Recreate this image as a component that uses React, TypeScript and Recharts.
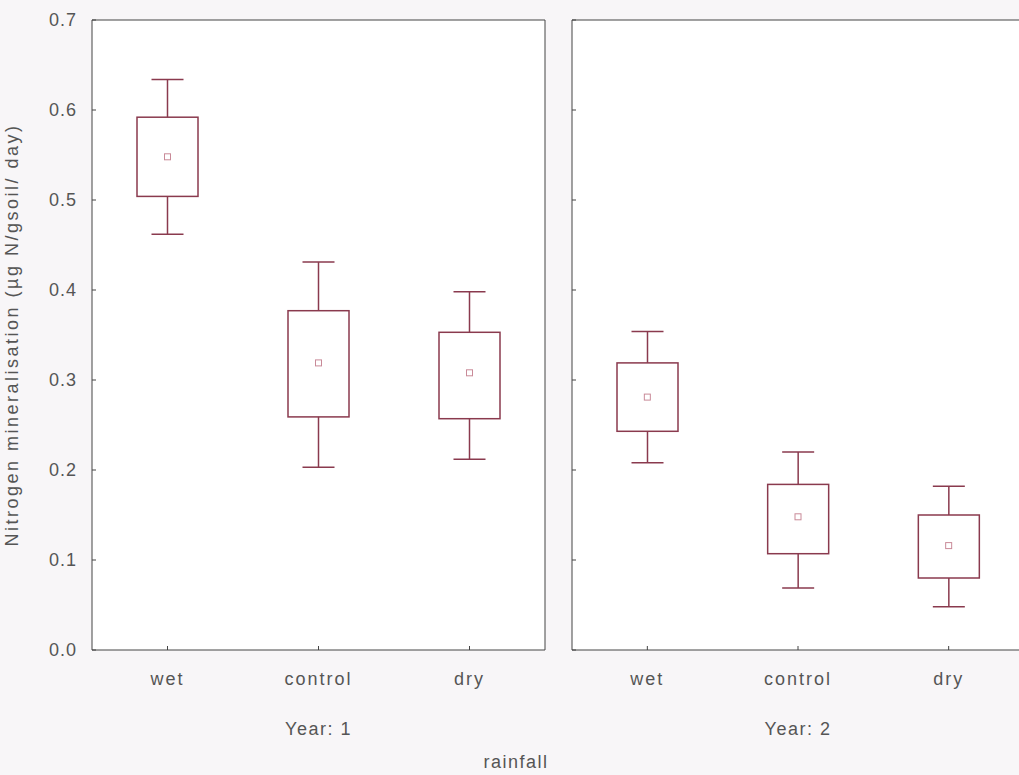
import { ComposedChart, Bar, Scatter, XAxis, YAxis, CartesianGrid, Label } from 'recharts'

const categories = ['wet', 'control', 'dry']
const yTicks = [0, 0.1, 0.2, 0.3, 0.4, 0.5, 0.6, 0.7]

// Year 1
const y1WhiskerHigh = [0.634, 0.431, 0.398]
const y1BoxHigh = [0.592, 0.377, 0.353]
const y1Mean = [0.548, 0.319, 0.308]
const y1BoxLow = [0.504, 0.259, 0.257]
const y1WhiskerLow = [0.462, 0.203, 0.212]

// Year 2
const y2WhiskerHigh = [0.354, 0.22, 0.182]
const y2BoxHigh = [0.319, 0.184, 0.15]
const y2Mean = [0.281, 0.148, 0.116]
const y2BoxLow = [0.243, 0.107, 0.08]
const y2WhiskerLow = [0.208, 0.069, 0.048]

const build = (wh: number[], bh: number[], m: number[], bl: number[], wl: number[]) =>
  categories.map((name, i) => ({
    name,
    whiskerHigh: wh[i],
    boxHigh: bh[i],
    mean: m[i],
    boxLow: bl[i],
    whiskerLow: wl[i],
  }))

const year1 = build(y1WhiskerHigh, y1BoxHigh, y1Mean, y1BoxLow, y1WhiskerLow)
const year2 = build(y2WhiskerHigh, y2BoxHigh, y2Mean, y2BoxLow, y2WhiskerLow)

const BOX = '#8a3a4e'
const AXIS = '#444'
const TEXT = '#555'
const FONT = 'Liberation Sans, Arial, sans-serif'

const BoxShape = (props: any) => {
  const { x, y, width, height, payload } = props
  const top = Math.min(y, y + height)
  const span = Math.abs(height)
  const range = payload.whiskerHigh - payload.whiskerLow
  const px = (v: number) => top + ((payload.whiskerHigh - v) / range) * span
  const cx = x + width / 2
  const cap = 16
  return (
    <g stroke={BOX} strokeWidth={1.5} fill='none'>
      <line x1={cx - cap} x2={cx + cap} y1={px(payload.whiskerHigh)} y2={px(payload.whiskerHigh)} />
      <line x1={cx} x2={cx} y1={px(payload.whiskerHigh)} y2={px(payload.boxHigh)} />
      <rect x={x} y={px(payload.boxHigh)} width={width} height={px(payload.boxLow) - px(payload.boxHigh)} />
      <line x1={cx} x2={cx} y1={px(payload.boxLow)} y2={px(payload.whiskerLow)} />
      <line x1={cx - cap} x2={cx + cap} y1={px(payload.whiskerLow)} y2={px(payload.whiskerLow)} />
    </g>
  )
}

const MeanShape = (props: any) => {
  const { cx, cy } = props
  return <rect x={cx - 3} y={cy - 3} width={6} height={6} fill='none' stroke='#c98a98' strokeWidth={1} />
}

function Panel({ data, year, showLabels }: { data: any[]; year: string; showLabels: boolean }) {
  const yw = showLabels ? 92 : 32
  return (
    <ComposedChart
      width={showLabels ? 560 : 494}
      height={775}
      data={data}
      margin={{ top: 19, right: showLabels ? 14 : 9, bottom: 0, left: 0 }}
      barCategoryGap={0}
    >
      <CartesianGrid fill='#fff' horizontal={false} vertical={false} />
      <XAxis
        dataKey='name'
        height={125}
        stroke={AXIS}
        tickSize={-4}
        tickMargin={26}
        tick={{ fill: TEXT, fontSize: 18, fontFamily: FONT, letterSpacing: 2 }}
        tickLine={{ stroke: AXIS }}
      >
        <Label value={year} position='insideBottom' offset={40} style={{ fill: TEXT, fontSize: 18, fontFamily: FONT, letterSpacing: 1.5 }} />
      </XAxis>
      <XAxis xAxisId='top' dataKey='name' orientation='top' height={1} stroke={AXIS} tick={false} tickSize={-4} />
      <YAxis
        domain={[0, 0.7]}
        ticks={yTicks}
        width={yw}
        stroke={AXIS}
        tickSize={-4}
        tickMargin={19}
        tickFormatter={(v: number) => (showLabels ? v.toFixed(1) : '')}
        tick={{ fill: TEXT, fontSize: 18, fontFamily: FONT, letterSpacing: 1 }}
      >
        {showLabels && (
          <Label
            value='Nitrogen mineralisation (µg N/gsoil/ day)'
            angle={-90}
            position='insideLeft'
            offset={12}
            style={{ fill: TEXT, fontSize: 18, fontFamily: FONT, letterSpacing: 2.5, textAnchor: 'middle' }}
          />
        )}
      </YAxis>
      <YAxis yAxisId='r' orientation='right' domain={[0, 0.7]} ticks={yTicks} width={1} stroke={AXIS} tick={false} tickSize={-4} />
      <Bar
        dataKey={(d: any) => [d.whiskerLow, d.whiskerHigh]}
        barSize={61}
        shape={BoxShape}
        isAnimationActive={false}
      />
      <Scatter dataKey='mean' shape={MeanShape} isAnimationActive={false} />
    </ComposedChart>
  )
}

export default function App() {
  return (
    <div
      style={{
        position: 'absolute',
        left: 0,
        top: 0,
        width: 1019,
        height: 775,
        overflow: 'hidden',
        background: '#f8f6f8',
        fontFamily: FONT,
      }}
    >
      <div style={{ position: 'absolute', left: 0, top: 0 }}>
        <Panel data={year1} year='Year: 1' showLabels />
      </div>
      <div style={{ position: 'absolute', left: 540, top: 0 }}>
        <Panel data={year2} year='Year: 2' showLabels={false} />
      </div>
      <div
        style={{
          position: 'absolute',
          left: 516,
          top: 762,
          transform: 'translate(-50%, -50%)',
          color: TEXT,
          fontSize: 18,
          letterSpacing: 1.5,
          whiteSpace: 'nowrap',
        }}
      >
        rainfall
      </div>
    </div>
  )
}
